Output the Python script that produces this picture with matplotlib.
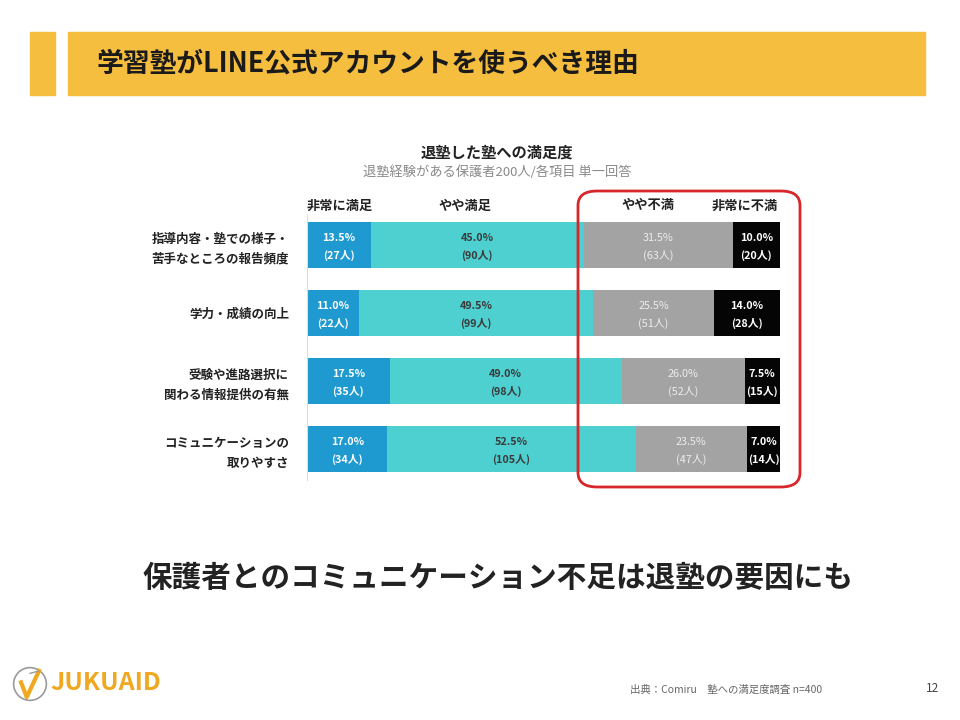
import matplotlib
matplotlib.use("Agg")
import matplotlib.pyplot as plt
from matplotlib.patches import Rectangle, FancyBboxPatch, Circle
import numpy as np

plt.rcParams['font.family'] = ['Noto Sans CJK JP', 'DejaVu Sans']

# data
items = ["指導内容・塾での様子・\n苦手なところの報告頻度", "学力・成績の向上",
         "受験や進路選択に\n関わる情報提供の有無", "コミュニケーションの\n取りやすさ"]
levels = ["非常に満足", "やや満足", "やや不満", "非常に不満"]
pct = [[13.5, 45.0, 31.5, 10.0],
       [11.0, 49.5, 25.5, 14.0],
       [17.5, 49.0, 26.0, 7.5],
       [17.0, 52.5, 23.5, 7.0]]
people = [[27, 90, 63, 20],
          [22, 99, 51, 28],
          [35, 98, 52, 15],
          [34, 105, 47, 14]]
colors = ["#1E9AD0", "#4ECFD0", "#A3A3A3", "#050505"]
txt_colors = ["white", "#3a3a3a", "#EDEDED", "white"]

W, H = 960, 720
fig = plt.figure(figsize=(9.6, 7.2), dpi=100)

def fx(px):
    return px / W

def fy(py):
    return 1 - py / H

# header
fig.patches.append(Rectangle((fx(30), fy(95)), fx(25), 63 / H, transform=fig.transFigure,
                             color="#F6BE3F", zorder=0))
fig.patches.append(Rectangle((fx(68), fy(95)), fx(857), 63 / H, transform=fig.transFigure,
                             color="#F6BE3F", zorder=0))
fig.text(fx(97), fy(63), "学習塾がLINE公式アカウントを使うべき理由", fontsize=19.3,
         fontweight="bold", color="#1a1a1a", va="center", ha="left")

# chart titles
fig.text(fx(497), fy(153), "退塾した塾への満足度", fontsize=11, fontweight="bold",
         color="#222222", ha="center", va="center")
fig.text(fx(497), fy(172), "退塾経験がある保護者200人/各項目 単一回答", fontsize=9.5,
         color="#8a8a8a", ha="center", va="center")

# bars
ax = fig.add_axes([fx(307), fy(480), fx(473), 265 / H])
y = np.arange(len(items))
left = np.zeros(len(items))
data = np.array(pct)
for j in range(len(levels)):
    ax.barh(y, data[:, j], left=left, height=0.68, color=colors[j], edgecolor="none")
    for i in range(len(items)):
        ax.text(left[i] + data[i, j] / 2, y[i] + 0.03, "%.1f%%\n(%d人)" % (data[i, j], people[i][j]),
                ha="center", va="center", fontsize=7.8, color=txt_colors[j],
                fontweight="bold" if j != 2 else "normal", linespacing=1.8)
    left += data[:, j]
ax.set_xlim(0, 100)
ax.set_ylim(3.46, -0.44)
ax.set_yticks(y)
ax.set_yticklabels(items, fontsize=9, fontweight="bold", color="#222222", linespacing=1.65)
ax.tick_params(axis="y", length=0, pad=13)
ax.set_xticks([])
for s in ["top", "right", "bottom"]:
    ax.spines[s].set_visible(False)
ax.spines["left"].set_color("#dddddd")
ax.patch.set_alpha(0)

# column headers
hdr_x = [7.0, 33.4, 72.0, 92.6]
for hx, lab in zip(hdr_x, levels):
    ax.text(hx, -0.58, lab, ha="center", va="center", fontsize=9.5, fontweight="bold",
            color="#222222", clip_on=False)

# red box
fig.patches.append(FancyBboxPatch((fx(578), fy(487)), fx(222), 296 / H,
                                  boxstyle="round,pad=0,rounding_size=0.02",
                                  transform=fig.transFigure, fill=False,
                                  edgecolor="#D8262B", linewidth=2, zorder=5))

# message
fig.text(fx(498), fy(578), "保護者とのコミュニケーション不足は退塾の要因にも", fontsize=21.3,
         fontweight="bold", color="#222222", ha="center", va="center")

# footer
logo = fig.add_axes([fx(12), fy(703), fx(36), 38 / H])
logo.set_xlim(-1.1, 1.1)
logo.set_ylim(-1.1, 1.1)
logo.set_aspect("equal")
logo.axis("off")
logo.add_patch(Circle((0, 0), 1, fill=False, edgecolor="#9a9a9a", linewidth=1.2))
logo.plot([-0.55, -0.2, 0.55], [0.1, -0.8, 0.8], color="#F0A820", linewidth=3)
logo.plot([0.0, 0.55], [0.65, 0.8], color="#9a9a9a", linewidth=1)
fig.text(fx(50), fy(683), "JUKUAID", fontsize=18, fontweight="bold", color="#F0A820",
         ha="left", va="center")
fig.text(fx(630), fy(690), "出典：Comiru　塾への満足度調査 n=400", fontsize=7.5,
         color="#666666", ha="left", va="center")
fig.text(fx(933), fy(688), "12", fontsize=8.5, color="#444444", ha="center", va="center")

fig.savefig("out.png", dpi=100, facecolor="white")
